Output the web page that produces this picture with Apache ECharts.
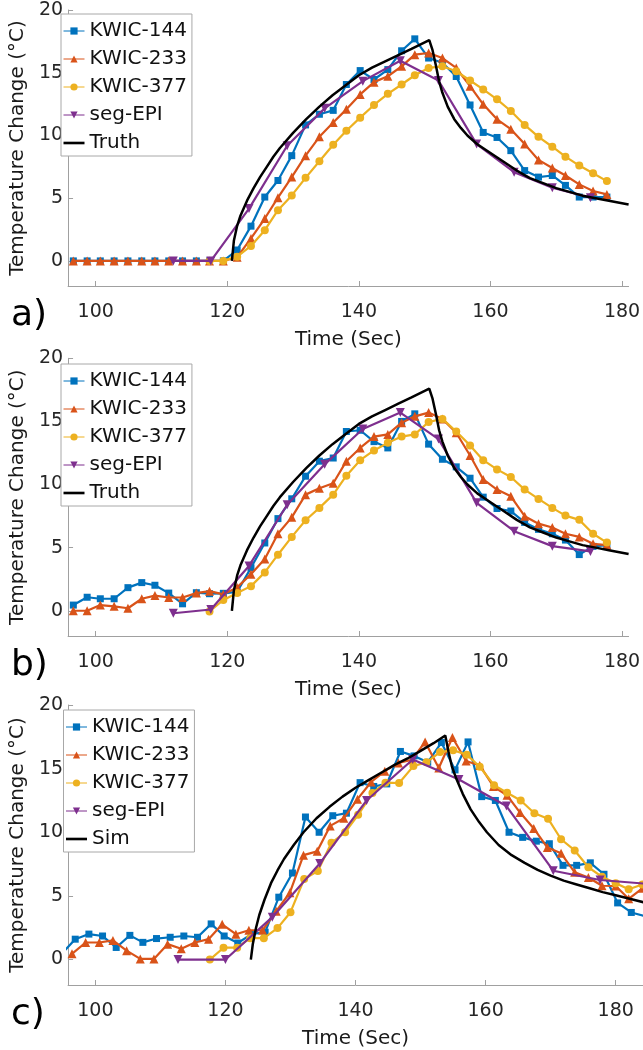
<!DOCTYPE html>
<html><head><meta charset="utf-8">
<script src="https://cdn.jsdelivr.net/npm/echarts@6/dist/echarts.min.js"></script>
<style>html,body{margin:0;padding:0;background:#fff}#c{width:643px;height:1050px}</style>
</head><body><div id="c"></div>
<script>
// ---------- data ----------
const seriesNames = ['KWIC-144', 'KWIC-233', 'KWIC-377', 'seg-EPI'];
const xTicks = [100, 120, 140, 160, 180];
const yTicks = [0, 5, 10, 15, 20];

// time samples (s) for panels a and b
const tK = [96.6, 98.7, 100.7, 102.8, 104.9, 107.0, 109.0, 111.1, 113.2, 115.3, 117.3, 119.4, 121.5, 123.6, 125.7, 127.7, 129.8, 131.9, 134.0, 136.1, 138.1, 140.2, 142.3, 144.4, 146.5, 148.5, 150.6, 152.7, 154.8, 156.9, 158.9, 161.0, 163.1, 165.2, 167.3, 169.4, 171.4, 173.5, 175.6, 177.7];
const tK377 = [117.3, 119.4, 121.5, 123.6, 125.7, 127.7, 129.8, 131.9, 134.0, 136.1, 138.1, 140.2, 142.3, 144.4, 146.5, 148.5, 150.6, 152.7, 154.8, 156.9, 158.9, 161.0, 163.1, 165.2, 167.3, 169.4, 171.4, 173.5, 175.6, 177.7];
const tEPI = [111.8, 117.5, 123.3, 129.1, 134.8, 140.6, 146.3, 152.1, 157.9, 163.6, 169.4, 175.2];
const tTruth = [120.7, 121.0, 121.5, 122.0, 123.0, 124.0, 125.0, 126.0, 127.0, 128.0, 130.0, 132.0, 134.0, 136.0, 138.0, 140.0, 142.0, 144.0, 146.0, 148.0, 150.7, 151.2, 151.7, 152.2, 152.7, 153.5, 154.5, 155.5, 156.5, 158.0, 160.0, 162.0, 164.0, 166.0, 168.0, 170.0, 172.0, 174.0, 176.0, 178.0, 181.0];
const vTruth = [0, 1.6, 2.8, 3.6, 4.8, 5.8, 6.7, 7.5, 8.3, 9.0, 10.2, 11.3, 12.3, 13.2, 14.0, 14.8, 15.4, 15.9, 16.4, 16.9, 17.6, 16.8, 15.6, 14.3, 13.4, 12.3, 11.3, 10.6, 10.0, 9.3, 8.6, 7.9, 7.2, 6.6, 6.2, 5.8, 5.5, 5.2, 5.0, 4.8, 4.5];

// panel a
const a144 = [0, 0, 0, 0, 0, 0, 0, 0, 0, 0, 0, 0, 0.87, 2.77, 5.09, 6.41, 8.39, 10.84, 11.69, 12.0, 14.06, 15.17, 14.46, 15.25, 16.75, 17.7, 16.17, 15.8, 14.7, 12.43, 10.24, 9.84, 8.79, 7.2, 6.68, 6.81, 6.02, 5.09, 5.09, 5.09];
const a233 = [0, 0, 0, 0, 0, 0, 0, 0, 0, 0, 0, 0, 0.3, 1.79, 3.38, 5.04, 6.68, 8.39, 9.89, 11.03, 12.08, 13.27, 14.25, 14.72, 15.51, 16.44, 16.57, 16.17, 15.38, 13.93, 12.48, 11.29, 10.5, 9.31, 8.05, 7.41, 6.81, 6.1, 5.57, 5.3];
const a377 = [0, 0, 0.34, 1.19, 2.45, 4.04, 5.22, 6.62, 7.94, 9.26, 10.37, 11.42, 12.43, 13.32, 14.06, 14.8, 15.38, 15.51, 15.12, 14.38, 13.67, 12.88, 11.95, 10.84, 9.89, 9.1, 8.31, 7.6, 6.99, 6.36];
const aEPI = [0, 0, 4.17, 9.18, 12.16, 14.33, 15.96, 14.38, 9.31, 7.07, 5.83, 5.04];

// panel b
const b144 = [0.45, 1.07, 0.95, 0.95, 1.83, 2.23, 2.02, 1.4, 0.55, 1.43, 1.35, 1.38, 1.5, 3.4, 5.37, 7.3, 8.87, 10.66, 11.85, 12.1, 14.2, 14.3, 13.4, 12.9, 15.0, 15.6, 13.2, 12.0, 11.4, 10.5, 9.0, 8.1, 7.9, 7.0, 6.45, 6.1, 5.6, 4.45, 5.1, 5.2];
const b233 = [0, 0, 0.45, 0.35, 0.2, 0.95, 1.2, 1.05, 1.05, 1.4, 1.55, 1.3, 1.85, 2.9, 4.1, 6.1, 7.4, 9.2, 9.7, 10.1, 11.85, 12.9, 13.8, 13.97, 14.9, 15.4, 15.7, 15.2, 14.1, 12.3, 10.4, 9.6, 9.07, 7.49, 6.9, 6.6, 6.1, 5.85, 5.3, 5.2];
const b377 = [-0.05, 0.85, 1.4, 1.95, 3.04, 4.44, 5.85, 7.17, 8.15, 9.2, 10.7, 11.93, 12.7, 13.3, 13.8, 13.97, 14.95, 15.2, 14.2, 13.1, 11.93, 11.2, 10.6, 9.6, 8.86, 8.15, 7.54, 7.2, 6.1, 5.4];
const bEPI = [-0.2, 0.1, 3.55, 8.4, 11.6, 14.4, 15.7, 13.6, 8.55, 6.3, 5.12, 4.7];

// panel c
const tC144 = [94.8, 96.9, 99.0, 101.1, 103.2, 105.3, 107.3, 109.4, 111.5, 113.6, 115.7, 117.8, 119.8, 121.9, 124.0, 126.1, 128.2, 130.3, 132.3, 134.4, 136.5, 138.6, 140.7, 142.8, 144.8, 146.9, 149.0, 151.1, 153.2, 155.3, 157.3, 159.4, 161.5, 163.6, 165.7, 167.8, 169.8, 171.9, 174.0, 176.1, 178.2, 180.3, 182.4, 184.5];
const c144 = [0.45, 1.6, 2.0, 1.85, 0.95, 1.9, 1.35, 1.65, 1.75, 1.85, 1.75, 2.8, 1.85, 1.3, 2.0, 2.15, 4.9, 6.8, 11.2, 10.0, 11.3, 11.5, 13.9, 13.6, 13.8, 16.35, 16.0, 15.5, 17.05, 14.9, 17.1, 12.8, 12.5, 10.0, 9.6, 9.3, 9.1, 7.4, 7.4, 7.6, 6.7, 4.45, 3.7, 3.4];
const tC233 = [96.4, 98.5, 100.6, 102.7, 104.8, 106.9, 109.0, 111.1, 113.2, 115.3, 117.4, 119.5, 121.6, 123.6, 125.7, 127.8, 129.9, 132.0, 134.1, 136.1, 138.2, 140.3, 142.4, 144.5, 146.6, 148.7, 150.7, 152.8, 154.9, 157.0, 159.1, 161.2, 163.3, 165.3, 167.4, 169.5, 171.6, 173.7, 175.8, 177.9, 180.0, 182.0, 184.1];
const c233 = [0.45, 1.34, 1.34, 1.5, 0.7, 0.05, 0.05, 1.21, 0.85, 1.34, 1.6, 2.77, 1.99, 2.3, 2.3, 3.8, 5.25, 8.2, 8.5, 10.5, 11.1, 12.6, 13.95, 14.8, 15.45, 15.7, 17.1, 15.05, 17.45, 15.6, 15.25, 13.6, 12.9, 11.55, 10.3, 8.8, 8.35, 6.85, 6.45, 5.8, 5.78, 4.77, 5.6];
const tC377 = [117.6, 119.7, 121.8, 123.8, 125.9, 128.0, 130.0, 132.1, 134.2, 136.3, 138.4, 140.4, 142.6, 144.6, 146.7, 148.9, 150.9, 153.0, 155.0, 157.1, 159.1, 161.3, 163.3, 165.4, 167.5, 169.6, 171.6, 173.7, 175.8, 177.9, 180.0, 182.0, 184.1];
const c377 = [0, 0.93, 0.93, 1.68, 1.68, 2.47, 3.72, 6.33, 6.95, 9.17, 10.0, 11.37, 13.08, 13.9, 13.87, 15.2, 15.5, 16.3, 16.45, 16.1, 15.15, 13.7, 13.1, 12.5, 11.5, 11.07, 9.45, 8.57, 7.25, 6.5, 6.0, 5.52, 5.9];
const tCEPI = [112.7, 120.0, 127.2, 134.5, 141.7, 148.8, 155.9, 163.2, 170.4, 177.6, 184.8];
const cEPI = [0, 0, 3.33, 7.55, 12.5, 15.72, 14.14, 12.06, 6.98, 6.25, 5.95];
const tSim = [123.9, 124.2, 124.7, 125.2, 126.0, 127.0, 128.0, 129.0, 130.5, 132.0, 134.0, 136.0, 138.0, 140.0, 142.0, 144.0, 146.0, 148.0, 150.0, 152.0, 153.8, 154.3, 154.8, 155.5, 156.5, 157.7, 159.0, 160.2, 162.0, 164.0, 166.0, 168.0, 170.0, 172.0, 174.0, 176.0, 178.0, 180.0, 182.0, 184.3];
const vSim = [0, 1.2, 2.5, 3.5, 4.7, 6.0, 7.0, 7.9, 9.0, 10.0, 11.1, 12.0, 12.8, 13.5, 14.1, 14.7, 15.3, 15.8, 16.4, 17.0, 17.6, 16.3, 15.2, 14.2, 13.0, 11.8, 10.8, 10.0, 9.0, 8.2, 7.6, 7.05, 6.6, 6.2, 5.9, 5.6, 5.3, 5.05, 4.8, 4.5];

// ---------- styling ----------
const FONT = 'DejaVu Sans';
const COLORS = ['#0072BD', '#D95319', '#EDB120', '#7E2F8E'];
const SYMBOLS = [['rect', 7, 0], ['triangle', 9, 0], ['circle', 8, 0], ['triangle', 9, 180]];
const panels = [
  {letter: 'a)', grid: {left: 54.5, right: 12, top: 10, height: 276}, xmax: 181, letterTop: 293,
   legendTop: 14, legendLeft: 61, ref: 'Truth',
   series: [[tK, a144], [tK, a233], [tK377, a377], [tEPI, aEPI]], line: [tTruth, vTruth]},
  {letter: 'b)', grid: {left: 54.5, right: 12, top: 358.3, height: 277.7}, xmax: 181, letterTop: 643,
   legendTop: 364, legendLeft: 61, ref: 'Truth',
   series: [[tK, b144], [tK, b233], [tK377, b377], [tEPI, bEPI]], line: [tTruth, vTruth]},
  {letter: 'c)', grid: {left: 56.7, right: 0, top: 705, height: 281.5}, xmax: 184.2, letterTop: 992,
   legendTop: 710, legendLeft: 63.5, ref: 'Sim',
   series: [[tC144, c144], [tC233, c233], [tC377, c377], [tCEPI, cEPI]], line: [tSim, vSim]}
];

const zip = (t, v) => t.map((x, i) => [x, v[i]]);
const option = {
  animation: false,
  backgroundColor: '#fff',
  textStyle: {fontFamily: FONT},
  title: [], grid: [], xAxis: [], yAxis: [], legend: [], series: []
};

panels.forEach((p, k) => {
  option.title.push({text: p.letter, left: 6, top: p.letterTop,
    textStyle: {fontFamily: FONT, fontSize: 36, fontWeight: 'normal', color: '#000'}});
  option.grid.push(p.grid);
  option.xAxis.push({
    type: 'value', gridIndex: k, min: 95.8, max: p.xmax,
    name: 'Time (Sec)', nameLocation: 'middle', nameGap: 44,
    nameTextStyle: {fontFamily: FONT, fontSize: 20, color: '#1a1a1a'},
    splitLine: {show: false},
    axisLine: {show: true, onZero: false, lineStyle: {color: '#a0a0a0', width: 1}},
    axisTick: {show: true, inside: true, length: 5, customValues: xTicks, lineStyle: {color: '#a0a0a0'}},
    axisLabel: {customValues: xTicks, margin: 17, fontFamily: FONT, fontSize: 19, color: '#262626'}
  });
  option.yAxis.push({
    type: 'value', gridIndex: k, min: -2, max: 20,
    name: 'Temperature Change (°C)', nameLocation: 'middle', nameGap: 36,
    nameTextStyle: {fontFamily: FONT, fontSize: 20, color: '#1a1a1a'},
    splitLine: {show: false},
    axisLine: {show: true, onZero: false, lineStyle: {color: '#a0a0a0', width: 1}},
    axisTick: {show: true, inside: true, length: 5, customValues: yTicks, lineStyle: {color: '#a0a0a0'}},
    axisLabel: {customValues: yTicks, margin: 5, fontFamily: FONT, fontSize: 19, color: '#262626'}
  });
  option.legend.push({
    orient: 'vertical', left: p.legendLeft, top: p.legendTop,
    data: seriesNames.map(n => ({name: n})).concat([{name: p.ref, icon: 'path://M0 0H24V3H0Z'}]),
    itemWidth: 21, itemHeight: 9, itemGap: 8,
    padding: [7, 5, 3, 2],
    lineStyle: {width: 1},
    borderColor: '#a8a8a8', borderWidth: 1, backgroundColor: '#fff',
    textStyle: {fontFamily: FONT, fontSize: 20, color: '#111', lineHeight: 20},
    selectedMode: false
  });
  p.series.forEach((s, j) => {
    option.series.push({
      type: 'line', name: seriesNames[j], xAxisIndex: k, yAxisIndex: k,
      data: zip(s[0], s[1]),
      symbol: SYMBOLS[j][0], symbolSize: SYMBOLS[j][1], symbolRotate: SYMBOLS[j][2],
      showSymbol: true, showAllSymbol: true,
      color: COLORS[j],
      lineStyle: {color: COLORS[j], width: 2.2},
      itemStyle: {color: COLORS[j]},
      z: 2 + j
    });
  });
  option.series.push({
    type: 'line', name: p.ref, xAxisIndex: k, yAxisIndex: k,
    data: zip(p.line[0], p.line[1]),
    symbol: 'none', showSymbol: false, color: '#000',
    itemStyle: {color: '#000'},
    lineStyle: {color: '#000', width: 2.5}, z: 8
  });
});

const chart = echarts.init(document.getElementById('c'), null, {renderer: 'canvas'});
chart.setOption(option);
</script>
</body></html>
